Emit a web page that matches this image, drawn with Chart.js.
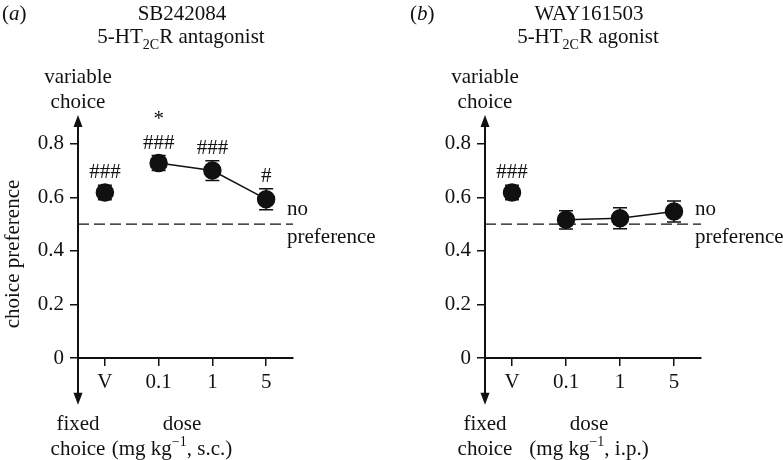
<!DOCTYPE html>
<html>
<head>
<meta charset="utf-8">
<script src="https://cdn.jsdelivr.net/npm/chart.js@4"></script>
<style>
  html, body { margin: 0; padding: 0; background: #fff; }
  #wrap { position: relative; width: 783px; height: 460px; }
  .panel { position: absolute; top: 0; height: 460px; }
</style>
</head>
<body>
<div id="wrap">
  <div class="panel" style="left:0;width:391px"><canvas id="ca"></canvas></div>
  <div class="panel" style="left:391px;width:392px"><canvas id="cb"></canvas></div>
</div>
<script>
// ---- data ----
const doseLabels = ['V', '0.1', '1', '5'];
const yTickValues = [0, 0.2, 0.4, 0.6, 0.8];
const noPreferenceLevel = 0.5;

const antagonistMean = [0.618, 0.728, 0.700, 0.593];
const antagonistSem  = [0.027, 0.028, 0.037, 0.039];
const antagonistHash = ['###', '###', '###', '#'];
const antagonistStar = ['', '*', '', ''];

const agonistMean = [0.618, 0.516, 0.522, 0.547];
const agonistSem  = [0.027, 0.034, 0.039, 0.039];
const agonistHash = ['###', '', '', ''];
const agonistStar = ['', '', '', ''];

const FONT = "'Liberation Serif', 'DejaVu Serif', serif";
const INK = '#111';

function drawRuns(ctx, runs, cx, baseline, align) {
  let total = 0;
  runs.forEach(r => { ctx.font = (r.style || '') + ' ' + r.size + 'px ' + FONT; r.w = ctx.measureText(r.t).width; total += r.w; });
  let x = align === 'left' ? cx : cx - total / 2;
  ctx.textAlign = 'left';
  ctx.textBaseline = 'alphabetic';
  runs.forEach(r => {
    ctx.font = (r.style || '') + ' ' + r.size + 'px ' + FONT;
    ctx.fillText(r.t, x, baseline + (r.dy || 0));
    x += r.w;
  });
}

const decorPlugin = {
  id: 'decor',
  beforeDatasetsDraw(chart, args, opts) {
    const ctx = chart.ctx;
    const xs = chart.scales.x, ys = chart.scales.y;
    const ca = chart.chartArea;
    ctx.save();
    ctx.strokeStyle = INK;
    ctx.lineWidth = 1.4;
    ctx.setLineDash([11, 5]);
    const y5 = ys.getPixelForValue(noPreferenceLevel);
    ctx.beginPath();
    ctx.moveTo(ca.left, y5);
    ctx.lineTo(ca.right, y5);
    ctx.stroke();
    ctx.setLineDash([]);
    ctx.lineWidth = 1.5;
    opts.mean.forEach((m, i) => {
      const x = xs.getPixelForValue(i);
      const yt = ys.getPixelForValue(m + opts.sem[i]);
      const yb = ys.getPixelForValue(m - opts.sem[i]);
      ctx.beginPath();
      ctx.moveTo(x, yt); ctx.lineTo(x, yb);
      ctx.moveTo(x - 7, yt); ctx.lineTo(x + 7, yt);
      ctx.moveTo(x - 7, yb); ctx.lineTo(x + 7, yb);
      ctx.stroke();
    });
    ctx.restore();
  },
  afterDraw(chart, args, opts) {
    const ctx = chart.ctx;
    const xs = chart.scales.x, ys = chart.scales.y;
    const ca = chart.chartArea;
    const ax = ca.left;
    ctx.save();
    ctx.fillStyle = INK;
    ctx.strokeStyle = INK;
    const topTip = ys.getPixelForValue(ys.max) - 2;
    const botTip = ys.getPixelForValue(-0.175);
    ctx.lineWidth = 2;
    ctx.beginPath();
    ctx.moveTo(ax, topTip + 8);
    ctx.lineTo(ax, botTip - 8);
    ctx.stroke();
    ctx.beginPath();
    ctx.moveTo(ax, topTip); ctx.lineTo(ax - 4.5, topTip + 12); ctx.lineTo(ax + 4.5, topTip + 12); ctx.closePath(); ctx.fill();
    ctx.beginPath();
    ctx.moveTo(ax, botTip); ctx.lineTo(ax - 4.5, botTip - 12); ctx.lineTo(ax + 4.5, botTip - 12); ctx.closePath(); ctx.fill();

    ctx.textAlign = 'center';
    ctx.textBaseline = 'alphabetic';
    ctx.font = '21px ' + FONT;
    opts.mean.forEach((m, i) => {
      const x = xs.getPixelForValue(i);
      const base = ys.getPixelForValue(m + opts.sem[i]) - 7;
      if (opts.hash[i]) ctx.fillText(opts.hash[i], x, base);
      if (opts.star[i]) ctx.fillText(opts.star[i], x, base - 24);
    });

    ctx.textAlign = 'left';
    ctx.fillText('no', ca.right - 6, 215);
    ctx.fillText('preference', ca.right - 6, 243);

    ctx.textAlign = 'center';
    ctx.fillText('variable', ax, 83);
    ctx.fillText('choice', ax, 108);
    ctx.fillText('fixed', ax, 430);
    ctx.fillText('choice', ax, 455);
    ctx.fillText('dose', ax + 104, 430);
    drawRuns(ctx, [
      {t: '(mg kg', size: 21},
      {t: '\u22121', size: 14, dy: -9},
      {t: opts.route, size: 21}
    ], ax + opts.unitShift, 455);

    drawRuns(ctx, [{t: opts.drug, size: 21}], ax + 104, 20);
    drawRuns(ctx, [
      {t: '5-HT', size: 21},
      {t: '2C', size: 14, dy: 6},
      {t: 'R ' + opts.role, size: 21}
    ], ax + 103, 43);
    drawRuns(ctx, [
      {t: '(', size: 21},
      {t: opts.letter, size: 21, style: 'italic'},
      {t: ')', size: 21}
    ], opts.letterX, 20, 'left');

    if (opts.yTitle) {
      ctx.save();
      ctx.translate(13, 254);
      ctx.rotate(-Math.PI / 2);
      ctx.textAlign = 'center';
      ctx.textBaseline = 'middle';
      ctx.font = '21px ' + FONT;
      ctx.fillText(opts.yTitle, 0, 0);
      ctx.restore();
    }
    ctx.restore();
  }
};

function makePanel(id, mean, sem, hash, star, cfg) {
  new Chart(document.getElementById(id), {
    type: 'line',
    data: {
      labels: doseLabels,
      datasets: [{
        data: mean,
        borderColor: INK,
        borderWidth: 1.5,
        pointRadius: 8.5,
        pointHoverRadius: 8.5,
        pointBackgroundColor: INK,
        pointBorderColor: INK,
        tension: 0,
        clip: false,
        segment: {
          borderColor: c => c.p0DataIndex === 0 ? 'rgba(0,0,0,0)' : INK
        }
      }]
    },
    options: {
      responsive: true,
      maintainAspectRatio: false,
      animation: false,
      events: [],
      layout: { padding: { left: 0, right: cfg.padRight, top: 117, bottom: 62 } },
      plugins: {
        legend: { display: false },
        tooltip: { enabled: false },
        decor: Object.assign({ mean, sem, hash, star }, cfg)
      },
      scales: {
        x: {
          type: 'category',
          offset: true,
          afterFit: s => { s.height = 40; },
          grid: { drawOnChartArea: false, drawTicks: true, tickLength: 8, color: INK, lineWidth: 1.5 },
          border: { display: true, color: INK, width: 2 },
          ticks: { color: INK, font: { family: FONT, size: 21 }, padding: 4, maxRotation: 0, autoSkip: false }
        },
        y: {
          min: 0,
          max: 0.9,
          afterFit: s => { s.width = cfg.axisX; },
          afterBuildTicks: s => { s.ticks = yTickValues.map(v => ({ value: v })); },
          grid: { drawOnChartArea: false, drawTicks: true, tickLength: 8, color: INK, lineWidth: 1.5 },
          border: { display: false },
          ticks: {
            color: INK,
            font: { family: FONT, size: 21 },
            padding: 6,
            callback: v => (Math.abs(v) < 1e-9 ? '0' : String(Math.round(v * 10) / 10))
          }
        }
      }
    },
    plugins: [decorPlugin]
  });
}

makePanel('ca', antagonistMean, antagonistSem, antagonistHash, antagonistStar, {
  axisX: 78, padRight: 98, letter: 'a', letterX: 2, drug: 'SB242084', role: 'antagonist',
  route: ', s.c.)', unitShift: 94, yTitle: 'choice preference'
});
makePanel('cb', agonistMean, agonistSem, agonistHash, agonistStar, {
  axisX: 94, padRight: 82, letter: 'b', letterX: 19, drug: 'WAY161503', role: 'agonist',
  route: ', i.p.)', unitShift: 104, yTitle: ''
});
</script>
</body>
</html>
